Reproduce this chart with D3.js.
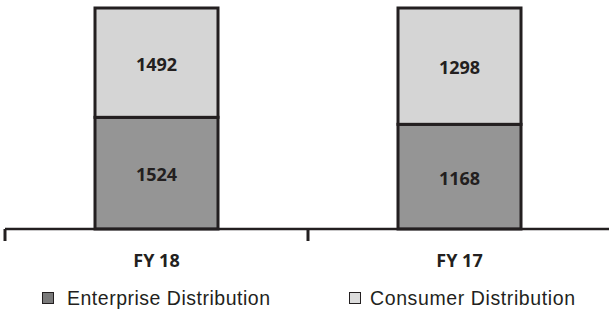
<!DOCTYPE html>
<meta charset="utf-8">
<style>
body { margin: 0; background: #fff; overflow: hidden; }
svg { display: block; }
.val, .cat { font-family: "Open Sans", sans-serif; font-weight: 700; fill: #231f20; }
.legend text { font-family: "Liberation Sans", Arial, sans-serif; fill: #231f20; }
</style>
<svg width="609" height="310"></svg>
<script src="https://cdnjs.cloudflare.com/ajax/libs/d3/7.8.5/d3.min.js"></script>
<script>

var categories = ["FY 18", "FY 17"];
var seriesNames = ["Enterprise Distribution", "Consumer Distribution"];
var enterprise = [1524, 1168];
var consumer = [1492, 1298];

var fills = ["#959595", "#d5d5d5"],
    legendFills = ["#7a7a7a", "#dcdcdc"];

var svg = d3.select("svg");

var rows = categories.map(function(c, i) {
  return { cat: c, enterprise: enterprise[i], consumer: consumer[i] };
});

// 100% stacked
var stack = d3.stack().keys(["enterprise", "consumer"]).offset(d3.stackOffsetExpand);
var layers = stack(rows);

var x = d3.scaleBand().domain(categories).range([5, 611]).paddingInner(0).paddingOuter(0);
var barW = 123;
var y = d3.scaleLinear().domain([0, 1]).range([229, 8]);

var g = svg.append("g");

layers.forEach(function(layer, li) {
  g.selectAll(".s" + li)
    .data(layer)
    .enter().append("rect")
      .attr("x", function(d) { return x(d.data.cat) + (x.bandwidth() - barW) / 2; })
      .attr("y", function(d) { return y(d[1]); })
      .attr("width", barW)
      .attr("height", function(d) { return y(d[0]) - y(d[1]); })
      .attr("fill", fills[li])
      .attr("stroke", "#231f20")
      .attr("stroke-width", 3);

  g.selectAll(".v" + li)
    .data(layer)
    .enter().append("text")
      .attr("class", "val")
      .attr("x", function(d) { return x(d.data.cat) + x.bandwidth() / 2; })
      .attr("y", function(d) { return (y(d[0]) + y(d[1])) / 2 + 8; })
      .attr("text-anchor", "middle")
      .style("font-size", "18px")
      .text(function(d) { return li === 0 ? d.data.enterprise : d.data.consumer; });
});

// axis line with ticks between categories
var axis = svg.append("g");
axis.append("line")
    .attr("x1", 5).attr("x2", 611).attr("y1", 229).attr("y2", 229)
    .attr("stroke", "#231f20").attr("stroke-width", 2.5);
var tickXs = [x.range()[0]].concat(categories.map(function(c) { return x(c) + x.bandwidth(); }));
axis.selectAll(".tick")
  .data(tickXs)
  .enter().append("line")
    .attr("x1", function(d) { return d; }).attr("x2", function(d) { return d; })
    .attr("y1", 229).attr("y2", 241)
    .attr("stroke", "#231f20").attr("stroke-width", 3);

axis.selectAll(".cat")
  .data(categories)
  .enter().append("text")
    .attr("class", "cat")
    .attr("x", function(d) { return x(d) + x.bandwidth() / 2; })
    .attr("y", 267)
    .attr("text-anchor", "middle")
    .style("font-size", "18px")
    .text(function(d) { return d; });

// legend
var legendX = [42, 349];
var legendW = [203, 205];
var legend = svg.append("g").attr("class", "legend");
var item = legend.selectAll("g")
  .data(seriesNames)
  .enter().append("g")
    .attr("transform", function(d, i) { return "translate(" + legendX[i] + ",292)"; });
item.append("rect")
    .attr("x", 0.5).attr("y", 0.5)
    .attr("width", 11).attr("height", 11)
    .attr("fill", function(d, i) { return legendFills[i]; })
    .attr("stroke", "#231f20").attr("stroke-width", 1);
item.append("text")
    .attr("x", function(d, i) { return i === 0 ? 25 : 21; })
    .attr("y", 13)
    .attr("textLength", function(d, i) { return legendW[i]; })
    .attr("lengthAdjust", "spacing")
    .style("font-size", "19.5px")
    .text(function(d) { return d; });

</script>
